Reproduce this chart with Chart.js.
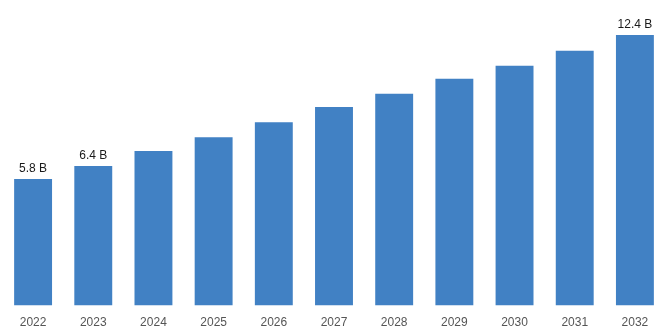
<!DOCTYPE html>
<html>
<head>
<meta charset="utf-8">
<script src="https://cdn.jsdelivr.net/npm/chart.js@4/dist/chart.umd.min.js"></script>
<style>
  html, body { margin: 0; padding: 0; background: #ffffff; }
  #wrap { width: 668px; height: 334px; position: relative; }
</style>
</head>
<body>
<div id="wrap"><canvas id="c"></canvas></div>
<script>
// Market size by year, in billions
const years = ['2022', '2023', '2024', '2025', '2026', '2027', '2028', '2029', '2030', '2031', '2032'];
const marketSize = [5.8, 6.4, 7.08, 7.71, 8.4, 9.1, 9.7, 10.39, 10.99, 11.68, 12.4];
// Bars that carry a value label
const labelledIndexes = [0, 1, 10];
const unitSuffix = ' B';

// Writes the value above selected bars, positioned from the bar elements
const valueLabels = {
  id: 'valueLabels',
  afterDatasetsDraw(chart) {
    const ctx = chart.ctx;
    const meta = chart.getDatasetMeta(0);
    ctx.save();
    ctx.font = '12px "Liberation Sans", Arial, sans-serif';
    ctx.fillStyle = '#1a1a1a';
    ctx.textAlign = 'center';
    ctx.textBaseline = 'alphabetic';
    labelledIndexes.forEach(i => {
      const bar = meta.data[i];
      ctx.fillText(marketSize[i].toFixed(1) + unitSuffix, bar.x, bar.y - 7);
    });
    ctx.restore();
  }
};

new Chart(document.getElementById('c'), {
  type: 'bar',
  data: {
    labels: years,
    datasets: [{
      data: marketSize,
      backgroundColor: '#4181c4',
      borderWidth: 0,
      categoryPercentage: 1,
      barPercentage: 0.63
    }]
  },
  options: {
    responsive: true,
    maintainAspectRatio: false,
    animation: false,
    layout: { padding: { left: 3, right: 3, top: 0, bottom: -6 } },
    plugins: {
      legend: { display: false },
      tooltip: { enabled: false }
    },
    scales: {
      x: {
        grid: { display: false, drawTicks: false },
        border: { display: false },
        ticks: {
          padding: 10,
          color: '#555555',
          font: { family: '"Liberation Sans", Arial, sans-serif', size: 12 }
        }
      },
      y: {
        display: false,
        min: 0,
        max: 14
      }
    }
  },
  plugins: [valueLabels]
});
</script>
</body>
</html>
